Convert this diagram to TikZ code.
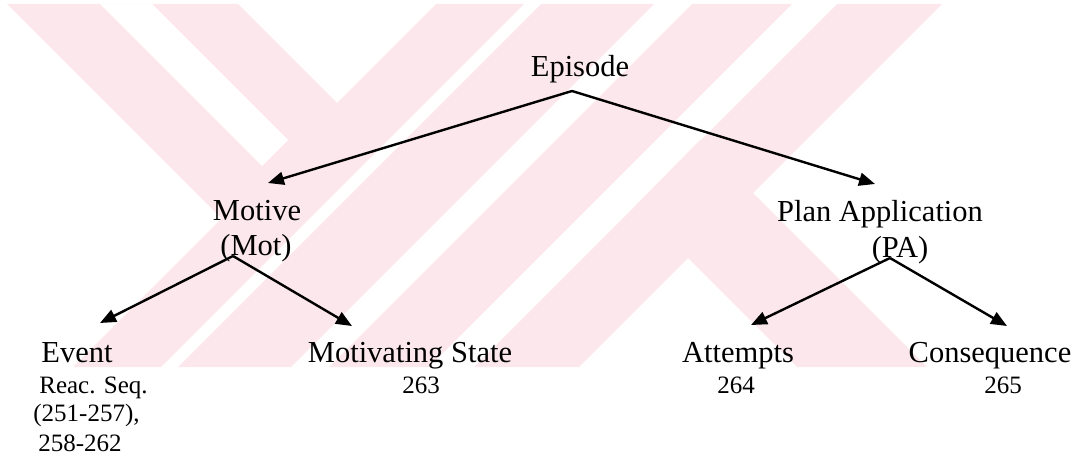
\documentclass[tikz,border=0pt]{standalone}
\usepackage{fontspec}
\setmainfont{Liberation Serif}
\usetikzlibrary{arrows.meta}
\definecolor{wm}{RGB}{252,232,236}
\tikzset{
  lbl/.style={anchor=base, inner sep=0pt, font=\fontsize{30.5}{35}\selectfont},
  sml/.style={anchor=base, inner sep=0pt, font=\fontsize{25}{29}\selectfont},
  arr/.style={line width=2.4pt, -{Triangle[length=16pt,width=13pt]}},
}
\begin{document}
\begin{tikzpicture}[x=1pt,y=-1pt]
\useasboundingbox (0,0) rectangle (1081,460);
% watermark
\fill[wm] (7,4) -- (238,4) -- (337,103) -- (436,4) -- (524,4) -- (161,367) -- (73,367) -- (221.5,218.5) -- cycle;
\fill[white] (100,4) -- (152,4) -- (288,140) -- (262,166) -- cycle;
\fill[wm] (541,4) -- (654,4) -- (291,367) -- (178,367) -- cycle;
\fill[wm] (692,4) -- (792,4) -- (429,367) -- (329,367) -- cycle;
\fill[wm] (837,4) -- (942,4) -- (579,367) -- (474,367) -- cycle;
\fill[wm] (635.5,205.5) -- (700,140) -- (927,367) -- (797,367) -- cycle;
% labels
\node[lbl] (ep) at (580,77) {Episode};
\node[lbl] (mot) at (257,220) {Motive};
\node[lbl] (motab) at (256,255) {(Mot)};
\node[lbl] (pa) at (880,221) {Plan Application};
\node[lbl] (paab) at (900,257) {(PA)};
\node[lbl] (ev) at (77,362) {Event};
\node[lbl] (ms) at (410,362) {Motivating State};
\node[lbl] (at) at (738,362) {Attempts};
\node[lbl] (co) at (990,362) {Consequence};
\node[sml] (r1) at (93.5,393) {Reac. Seq.};
\node[sml] (r2) at (86.5,421) {(251-257),};
\node[sml] (r3) at (80,451) {258-262};
\node[sml] (n263) at (421,393) {263};
\node[sml] (n264) at (736,393) {264};
\node[sml] (n265) at (1003,393) {265};
% connectors
\draw[arr] ([shift={(-8,14)}]ep.base) -- ([shift={(11,-37)}]mot.base);
\draw[arr] ([shift={(-8,14)}]ep.base) -- ([shift={(-5,-37)}]pa.base);
\draw[arr] ([shift={(-23,1)}]motab.base) -- ([shift={(23,-39)}]ev.base);
\draw[arr] ([shift={(-23,1)}]motab.base) -- ([shift={(-58,-36)}]ms.base);
\draw[arr] ([shift={(-10,1)}]paab.base) -- ([shift={(13,-37)}]at.base);
\draw[arr] ([shift={(-10,1)}]paab.base) -- ([shift={(17,-36)}]co.base);
\end{tikzpicture}
\end{document}
